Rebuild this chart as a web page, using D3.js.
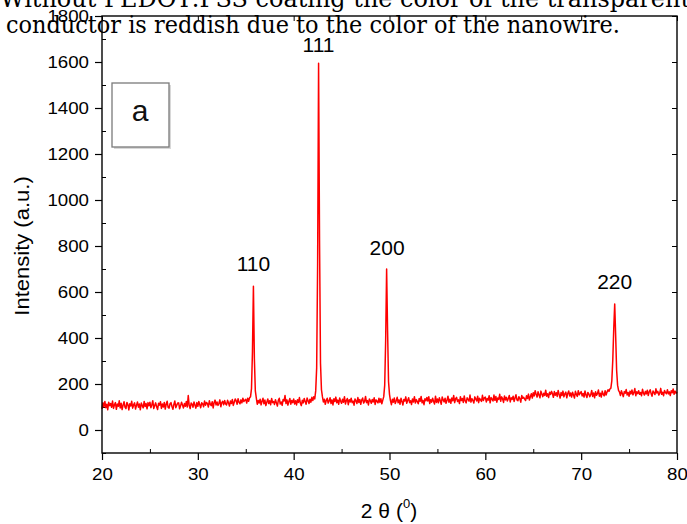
<!DOCTYPE html>
<html>
<head>
<meta charset="utf-8">
<script src="https://cdn.jsdelivr.net/npm/d3@7"></script>
<style>
  body { margin: 0; background: #fff; }
  svg { display: block; }
</style>
</head>
<body>
<div id="chart"></div>
<script>
// --- DATA ---
// XRD scan, 2θ from 20° to 80° in 0.1° steps (one row per degree)
const thetaStart = 20;
const thetaStep = 0.1;
const intensity = [
  92,118,101,124,97,112,88,121,106,115,
  99,126,94,110,119,90,113,103,127,96,
  116,89,108,123,100,93,120,111,87,114,
  104,125,95,109,118,91,107,122,99,113,
  88,117,106,96,124,102,115,92,119,105,
  121,97,110,127,93,106,118,101,89,116,
  108,123,94,113,100,120,91,112,125,98,
  95,114,119,102,90,111,126,97,108,117,
  118,92,105,121,109,96,115,103,124,100,
  150,106,93,117,112,99,122,108,95,119,
  103,124,110,97,118,114,101,126,108,120,
  115,100,127,112,106,123,96,119,130,109,
  122,107,116,131,101,119,125,110,128,113,
  109,129,118,104,126,115,133,107,121,135,
  127,112,136,120,114,131,118,138,124,129,
  133,117,138,125,140,145,180,340,625,310,
  170,140,112,128,117,134,109,125,138,114,
  130,106,121,135,115,127,110,137,119,124,
  111,132,118,104,129,138,113,122,107,133,
  126,150,115,131,108,124,137,112,128,119,
  135,113,127,109,132,120,141,116,106,129,
  118,137,124,112,139,127,115,134,121,142,
  128,145,135,170,270,720,1595,820,290,175,
  145,122,134,112,129,138,117,126,140,115,
  131,109,136,124,143,118,130,112,139,125,
  116,134,121,145,113,128,137,110,132,122,
  138,119,126,108,135,127,115,141,120,133,
  112,130,139,117,124,146,119,128,109,135,
  127,116,133,122,140,111,131,125,118,138,
  120,136,114,130,145,195,390,700,430,210,
  155,128,110,134,121,139,115,127,142,118,
  131,112,138,124,109,133,126,144,116,129,
  140,119,127,111,135,122,145,117,132,124,
  114,137,125,146,118,129,110,136,127,141,
  126,145,115,132,121,138,124,113,147,120,
  135,118,140,127,112,144,131,122,138,116,
  129,147,121,134,116,139,127,150,119,136,
  142,124,131,115,145,128,137,120,148,126,
  118,140,133,125,152,121,136,129,117,144,
  135,126,147,119,138,131,124,151,128,140,
  143,122,137,130,149,118,141,134,126,152,
  129,146,121,139,133,155,125,144,136,120,
  148,131,142,126,137,150,122,140,133,147,
  124,139,153,131,127,145,136,121,150,138,
  142,134,128,149,137,156,130,145,158,139,
  162,148,171,155,143,166,152,140,169,157,
  145,160,150,173,147,158,141,164,154,168,
  158,142,167,151,162,146,172,155,139,163,
  150,169,144,157,165,140,159,170,148,161,
  143,164,152,139,168,155,146,171,153,160,
  167,148,159,143,170,152,141,163,157,145,
  154,172,146,161,140,166,151,158,174,147,
  160,143,169,155,148,171,152,165,175,168,
  178,182,215,305,440,548,410,260,195,172,
  165,150,171,158,145,167,160,176,152,163,
  147,169,157,174,153,162,180,149,166,158,
  171,155,163,149,177,160,152,168,157,173,
  150,166,175,158,147,170,162,154,179,161,
  168,152,160,181,155,164,149,172,163,158,
  175,157,166,150,171,162,178,155,169,160,
  165
];

const peakLabels = ["110", "111", "200", "220"];
const peakTheta = [35.8, 42.6, 49.75, 73.5];
const peakLabelValue = [690, 1645, 760, 615];

const xTicks = [20, 30, 40, 50, 60, 70, 80];
const xMinorTicks = [25, 35, 45, 55, 65, 75];
const yTicks = [0, 200, 400, 600, 800, 1000, 1200, 1400, 1600, 1800];
const yMinorTicks = [-100, 100, 300, 500, 700, 900, 1100, 1300, 1500, 1700];

const xTitle = "2 θ (";
const xTitleSup = "0";
const yTitle = "Intensity (a.u.)";
const panelLabel = "a";
const captionLines = [
  "Without PEDOT:PSS coating the color of the transparent",
  "conductor is reddish due to the color of the nanowire."
];

// --- LAYOUT ---
const W = 687, H = 524;
const plot = { left: 102, right: 677, top: 16, bottom: 453 };
const sansFont = "'Liberation Sans', Arial, sans-serif";
const stretch = 1.1;

const svg = d3.select("#chart").append("svg")
  .attr("width", W).attr("height", H);

const x = d3.scaleLinear().domain([20, 80]).range([plot.left, plot.right]);
const y = d3.scaleLinear().domain([-100, 1800]).range([plot.bottom, plot.top]);

// widen a text element horizontally, like the stretched original figure
function widen(sel, k) {
  sel.each(function () {
    const len = this.getComputedTextLength();
    d3.select(this).attr("textLength", len * k).attr("lengthAdjust", "spacingAndGlyphs");
  });
}

// --- AXES ---
const gx = svg.append("g").attr("transform", `translate(0,${plot.bottom})`)
  .call(d3.axisBottom(x).tickValues(xTicks).tickSize(7).tickPadding(8).tickFormat(d3.format("d")));
gx.select(".domain").remove();
gx.selectAll("text").attr("font-size", 17).attr("font-family", sansFont).attr("fill", "#000");
gx.selectAll("line").attr("stroke", "#000").attr("stroke-width", 1.2);

const gxm = svg.append("g").attr("transform", `translate(0,${plot.bottom})`)
  .call(d3.axisBottom(x).tickValues(xMinorTicks).tickSize(-4).tickFormat(""));
gxm.select(".domain").remove();
gxm.selectAll("line").attr("stroke", "#000").attr("stroke-width", 1);

const gy = svg.append("g").attr("transform", `translate(${plot.left},0)`)
  .call(d3.axisLeft(y).tickValues(yTicks).tickSize(7).tickPadding(6).tickFormat(d3.format("d")));
gy.select(".domain").remove();
gy.selectAll("text").attr("font-size", 17).attr("font-family", sansFont).attr("fill", "#000");
gy.selectAll("line").attr("stroke", "#000").attr("stroke-width", 1.2);

const gym = svg.append("g").attr("transform", `translate(${plot.left},0)`)
  .call(d3.axisLeft(y).tickValues(yMinorTicks).tickSize(-4).tickFormat(""));
gym.select(".domain").remove();
gym.selectAll("line").attr("stroke", "#000").attr("stroke-width", 1);

// mirrored ticks on the right and top
const gr = svg.append("g").attr("transform", `translate(${plot.right},0)`)
  .call(d3.axisRight(y).tickValues(yTicks).tickSize(-5).tickFormat(""));
gr.select(".domain").remove();
gr.selectAll("line").attr("stroke", "#000").attr("stroke-width", 1);

const gt = svg.append("g").attr("transform", `translate(0,${plot.top})`)
  .call(d3.axisTop(x).tickValues(xTicks).tickSize(-5).tickFormat(""));
gt.select(".domain").remove();
gt.selectAll("line").attr("stroke", "#000").attr("stroke-width", 1);

// --- DATA LINE ---
const line = d3.line()
  .x((d, i) => x(thetaStart + i * thetaStep))
  .y(d => y(d));

svg.append("path").datum(intensity)
  .attr("d", line)
  .attr("fill", "none")
  .attr("stroke", "#ff0000")
  .attr("stroke-width", 1.5)
  .attr("stroke-linejoin", "round");

// frame
svg.append("rect")
  .attr("x", plot.left).attr("y", plot.top)
  .attr("width", plot.right - plot.left).attr("height", plot.bottom - plot.top)
  .attr("fill", "none").attr("stroke", "#000").attr("stroke-width", 1.4);

// --- PEAK LABELS ---
svg.append("g").selectAll("text").data(peakLabels).join("text")
  .attr("x", (d, i) => x(peakTheta[i]))
  .attr("y", (d, i) => y(peakLabelValue[i]))
  .attr("text-anchor", "middle")
  .attr("font-family", sansFont).attr("font-size", 21)
  .attr("fill", "#000")
  .text(d => d);

// --- PANEL LABEL BOX ---
svg.append("rect")
  .attr("x", 114).attr("y", 85).attr("width", 57).attr("height", 64)
  .attr("fill", "#d8d8d8");
svg.append("rect")
  .attr("x", 112).attr("y", 83).attr("width", 57).attr("height", 64)
  .attr("fill", "#fff").attr("stroke", "#7a7a7a").attr("stroke-width", 1.3);
svg.append("text")
  .attr("x", 140).attr("y", 121)
  .attr("text-anchor", "middle")
  .attr("font-family", sansFont).attr("font-size", 30)
  .attr("fill", "#111")
  .text(panelLabel);

// --- AXIS TITLES ---
const yt = svg.append("text")
  .attr("transform", "translate(29,246) rotate(-90)")
  .attr("text-anchor", "middle")
  .attr("font-family", sansFont).attr("font-size", 20)
  .attr("fill", "#000")
  .text(yTitle);

const xt = svg.append("text")
  .attr("x", 389).attr("y", 518)
  .attr("text-anchor", "middle")
  .attr("font-family", sansFont).attr("font-size", 21)
  .attr("fill", "#000");
xt.append("tspan").text(xTitle);
xt.append("tspan").attr("font-size", 13).attr("dy", -10).text(xTitleSup);
xt.append("tspan").attr("dy", 10).text(")");

widen(gx.selectAll("text"), stretch);
widen(gy.selectAll("text"), stretch);
widen(yt, stretch);

// --- CAPTION TEXT OVER THE FIGURE ---
const serif = "'DejaVu Serif', 'Liberation Serif', serif";
svg.append("text")
  .attr("x", 0).attr("y", 7)
  .attr("font-family", serif).attr("font-size", 24).attr("fill", "#000")
  .attr("textLength", 690).attr("lengthAdjust", "spacingAndGlyphs")
  .text(captionLines[0]);
svg.append("text")
  .attr("x", 6).attr("y", 33)
  .attr("font-family", serif).attr("font-size", 24).attr("fill", "#000")
  .attr("textLength", 614).attr("lengthAdjust", "spacingAndGlyphs")
  .text(captionLines[1]);
</script>
</body>
</html>
